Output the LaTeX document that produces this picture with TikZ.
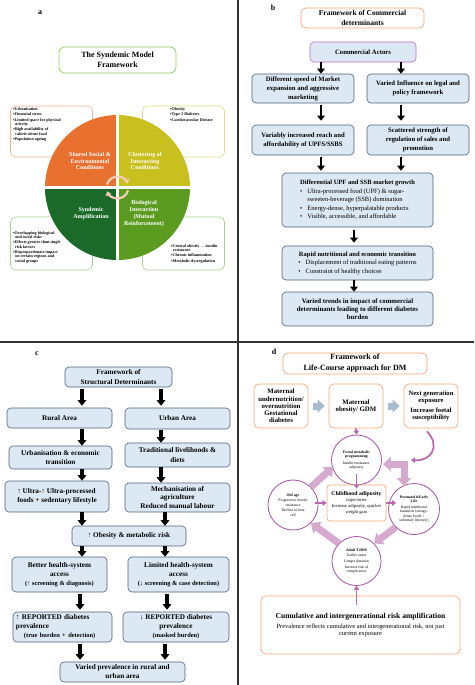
\documentclass[tikz,border=0pt]{standalone}
\usepackage{fontspec}
\setmainfont{Liberation Serif}
\usetikzlibrary{arrows.meta,calc}
\newcommand{\myfs}[2]{\fontsize{#1}{#2}\selectfont}
\definecolor{qorange}{HTML}{E8712F}
\definecolor{qyellow}{HTML}{C9C020}
\definecolor{qdgreen}{HTML}{1B6A2A}
\definecolor{qgreen}{HTML}{5B9B20}
\definecolor{borange}{HTML}{F4B08A}
\definecolor{byellow}{HTML}{E2DC7A}
\definecolor{bgreen}{HTML}{A9D08E}
\definecolor{tgreen}{HTML}{8FCB5A}
\definecolor{boxblue}{HTML}{DCE8F4}
\definecolor{bordblue}{HTML}{4F6179}
\definecolor{actpink}{HTML}{C46AC4}
\definecolor{tor}{HTML}{F5A778}
\definecolor{magarr}{HTML}{B96AB3}
\definecolor{circb}{HTML}{A552A6}
\definecolor{pinkblk}{HTML}{D6AACF}
\definecolor{grayblk}{HTML}{A8BCCE}
\definecolor{cycpink}{HTML}{F6CDB9}
\begin{document}
\begin{tikzpicture}[x=1pt,y=-1pt,
  lbl/.style={font=\myfs{8}{9}\bfseries, inner sep=0pt},
  abox/.style={rounded corners=5pt, line width=0.6pt, fill=white},
  atext/.style={anchor=north west, align=left, inner sep=0pt, font=\myfs{4.1}{4.4}\bfseries},
  qtext/.style={white, align=center, inner sep=0pt, font=\myfs{6}{6.9}\bfseries},
  bbox/.style={draw=bordblue, fill=boxblue, rounded corners=4pt, line width=0.6pt, align=center, inner sep=1pt, font=\myfs{6.7}{9}\bfseries},
  cbox/.style={bbox, font=\myfs{7.2}{9.2}\bfseries},
  tbox/.style={draw=tor, rounded corners=5pt, line width=0.7pt, align=center, inner sep=1pt, fill=white},
  blk/.style={line width=2.6pt, -{Triangle[width=7.5pt,length=5pt]}},
  blkc/.style={line width=3.2pt, -{Triangle[width=8.5pt,length=5.5pt]}},
  marr/.style={magarr, line width=1.8pt, -{Triangle[width=5.5pt,length=4pt]}},
  parr/.style={pinkblk, line width=7pt, -{Triangle[width=14pt,length=8pt]}},
  garr/.style={grayblk, line width=7pt, -{Triangle[width=13pt,length=7pt]}},
  lc/.style={draw=circb, circle, line width=0.8pt, fill=white, minimum size=#1, inner sep=0pt, align=center, font=\myfs{3.8}{4.4}},
]
\useasboundingbox (0,0) rectangle (474,685);
\fill[white] (0,0) rectangle (474,685);
\draw[line width=1.4pt, black!80] (238,0) -- (238,685);
\draw[line width=1.4pt, black!80] (0,342) -- (474,342);

% ---------------- panel a
\node[lbl] (la) at (40,13) {a};
\node[draw=tgreen, rounded corners=6pt, line width=0.7pt, minimum width=117pt, minimum height=26pt, align=center, font=\myfs{8}{9.5}\bfseries] (atitle) at (117.5,60) {The Syndemic Model\\Framework};
\node[abox, draw=borange, minimum width=82pt, minimum height=51pt] (sb1) at (51.5,131.5) {};
\node[abox, draw=byellow, minimum width=82pt, minimum height=51pt] (sb2) at (183.5,131.5) {};
\node[abox, draw=bgreen, minimum width=82pt, minimum height=53pt] (sb3) at (51.5,243.5) {};
\node[abox, draw=bgreen, minimum width=82pt, minimum height=53pt] (sb4) at (183.5,243.5) {};
\node[atext] (t1) at (13,107.5) {▪Urbanisation\\[0.9pt]▪Financial stress\\[0.9pt]▪Limited space for physical\\\hspace{2pt}activity\\[0.9pt]▪High availability of\\\hspace{2pt}calorie-dense food\\[0.9pt]▪Population ageing};
\node[atext] (t2) at (170,107.5) {▪Obesity\\[0.9pt]▪Type 2 Diabetes\\[0.9pt]▪Cardiovascular Disease};
\node[atext] (t3) at (13,231) {▪Overlapping biological\\\hspace{2pt}and social risks\\[0.9pt]▪Effects greater than single\\\hspace{2pt}risk factors\\[0.9pt]▪Disproportionate impact\\\hspace{2pt}on certain regions and\\\hspace{2pt}social groups};
\node[atext] (t4) at (171,244) {▪Central obesity → insulin\\\hspace{2pt}resistance\\[0.9pt]▪Chronic inflammation\\[0.9pt]▪Metabolic dysregulation};
\coordinate (cc) at (117.5,187.5);
\begin{scope}
\clip (cc) circle[radius=72.5pt];
\fill[qorange] (44,114) rectangle (117.5,187.5);
\fill[qyellow] (117.5,114) rectangle (191,187.5);
\fill[qdgreen] (44,187.5) rectangle (117.5,261);
\fill[qgreen] (117.5,187.5) rectangle (191,261);
\end{scope}
\draw[white, line width=3.5pt] (43,187.5) -- (192,187.5);
\draw[white, line width=3.5pt] (117.5,113) -- (117.5,262);
\draw[cycpink, line width=2.2pt, -{Triangle[width=6pt,length=4pt]}] (cc) ++(165:11pt) arc[start angle=165, end angle=20, radius=11pt];
\draw[cycpink, line width=2.2pt, -{Triangle[width=6pt,length=4pt]}] (cc) ++(345:11pt) arc[start angle=345, end angle=200, radius=11pt];
\node[qtext] (q1) at (90,161) {Shared Social \&\\Environmental\\Conditions};
\node[qtext] (q2) at (145,161) {Clustering of\\Interacting\\Conditions};
\node[qtext] (q3) at (91,214) {Syndemic\\Amplification};
\node[qtext] (q4) at (144,213.5) {Biological\\Interaction\\(Mutual\\Reinforcement)};

% ---------------- panel b
\node[lbl] (lb) at (273,8) {b};
\node[tbox, minimum width=123pt, minimum height=20pt, font=\myfs{7.5}{9.5}\bfseries] (btitle) at (362.5,18) {Framework of Commercial\\determinants};
\node[bbox, draw=actpink, minimum width=106pt, minimum height=20pt] (ca) at (363,52) {Commercial Actors};
\node[bbox, minimum width=102pt, minimum height=29pt] (l1) at (303,88.5) {Different speed of Market\\expansion and aggressive\\marketing};
\node[bbox, minimum width=102pt, minimum height=29pt] (r1) at (418,88.5) {Varied Influence on legal and\\policy framework};
\node[bbox, minimum width=102pt, minimum height=30pt] (l2) at (303,140) {Variably increased reach and\\affordability of UPFS/SSBS};
\node[bbox, minimum width=102pt, minimum height=30pt] (r2) at (418,140) {Scattered strength of\\regulation of sales and\\promotion};
\node[bbox, minimum width=151pt, minimum height=54pt, font=\myfs{6.5}{8.5}] (mg) at (357.5,200) {\begin{tabular}{@{}l@{\hspace{5pt}}l@{}}
\multicolumn{2}{@{}c@{}}{\bfseries Differential UPF and SSB market growth}\\
\textbullet & Ultra-processed food (UPF) \& sugar-\\
 & sweeten-beverage (SSB) domination\\
\textbullet & Energy-dense, hyperpalatable products\\
\textbullet & Visible, accessible, and affordable
\end{tabular}};
\node[bbox, minimum width=151pt, minimum height=34pt, font=\myfs{6.5}{8.5}] (rt) at (357.5,263) {\begin{tabular}{@{}l@{\hspace{5pt}}l@{}}
\multicolumn{2}{@{}c@{}}{\bfseries Rapid nutritional and economic transition}\\
\textbullet & Displacement of traditional eating patterns\\
\textbullet & Constraint of healthy choices
\end{tabular}};
\node[bbox, minimum width=151pt, minimum height=34pt, font=\myfs{6.8}{8}\bfseries] (vt) at (357.5,309) {Varied trends in impact of commercial\\determinants leading to different diabetes\\burden};
\coordinate (bx1) at (321,0);
\coordinate (bx2) at (401,0);
\coordinate (bx3) at (354,0);
\draw[blk] (ca.south -| bx1) -- (l1.north -| bx1);
\draw[blk] (ca.south -| bx2) -- (r1.north -| bx2);
\draw[blk, shorten <=2pt, shorten >=4pt] (l1.south -| bx1) -- (l2.north -| bx1);
\draw[blk, shorten <=2pt, shorten >=4pt] (r1.south -| bx2) -- (r2.north -| bx2);
\draw[blk, shorten <=2pt, shorten >=2pt] (l2.south -| bx1) -- (mg.north -| bx1);
\draw[blk, shorten <=2pt, shorten >=2pt] (r2.south -| bx2) -- (mg.north -| bx2);
\draw[blk, shorten <=3pt, shorten >=3pt] (mg.south -| bx3) -- (rt.north -| bx3);
\draw[blk, shorten <=0pt, shorten >=0pt] (rt.south -| bx3) -- (vt.north -| bx3);

% ---------------- panel c
\node[lbl] (lc) at (37,354) {c};
\node[cbox, minimum width=107pt, minimum height=20pt, font=\myfs{7.2}{9.8}\bfseries] (ct) at (118.5,377) {Framework of\\Structural Determinants};
\node[cbox, minimum width=105pt, minimum height=20pt] (rural) at (59.5,418) {Rural Area};
\node[cbox, minimum width=105pt, minimum height=21pt] (urban) at (177.5,418.5) {Urban Area};
\node[cbox, minimum width=103pt, minimum height=23pt] (urbn) at (60.5,457.5) {Urbanisation \& economic\\transition};
\node[cbox, minimum width=105pt, minimum height=24pt] (trad) at (177.5,455) {Traditional livelihoods \&\\diets};
\node[cbox, minimum width=104pt, minimum height=31pt, align=left] (ultra) at (57,496.5) {↑ Ultra-↑ Ultra-processed\\foods + sedentary lifestyle};
\node[cbox, minimum width=105pt, minimum height=29pt, font=\myfs{7.2}{8.2}\bfseries] (mech) at (177.5,497.5) {Mechanisation of\\agriculture\\Reduced manual labour};
\node[cbox, minimum width=114pt, minimum height=20pt] (obes) at (129,536) {↑ Obesity \& metabolic risk};
\node[cbox, minimum width=95pt, minimum height=35pt, font=\myfs{7.2}{9}\bfseries] (better) at (59.5,574.5) {Better health-system\\access\\{\myfs{6.4}{9}(↑ screening \& diagnosis)}};
\node[cbox, minimum width=101pt, minimum height=35pt, font=\myfs{7.2}{9}\bfseries] (limit) at (178.5,574.5) {Limited health-system\\access\\{\myfs{6.4}{9}(↓ screening \& case detection)}};
\node[cbox, minimum width=99pt, minimum height=30pt, text width=93pt, align=left, font=\myfs{7.2}{9}\bfseries] (repl) at (62.5,627) {↑ REPORTED diabetes\\prevalence\\\hspace{8pt}{\myfs{6.4}{9}(true burden + detection)}};
\node[cbox, minimum width=106pt, minimum height=30pt, font=\myfs{7.2}{9}\bfseries] (repr) at (176,627) {↓ REPORTED diabetes\\prevalence\\{\myfs{6.4}{9}(masked burden)}};
\node[cbox, minimum width=125pt, minimum height=20pt, font=\myfs{7.2}{9}\bfseries] (final) at (122.5,672) {Varied prevalence in rural and\\urban area};
\coordinate (cA) at (82,0);
\coordinate (cB) at (161,0);
\coordinate (cC) at (165,0);
\coordinate (cD) at (80,0);
\coordinate (cE) at (167,0);
\draw[blkc, shorten <=2pt, shorten >=2pt] (ct.south -| cA) -- (rural.north -| cA);
\draw[blkc, shorten <=2pt, shorten >=2pt] (ct.south -| cB) -- (urban.north -| cB);
\draw[blkc, shorten <=1pt, shorten >=0pt] (rural.south -| cA) -- (urbn.north -| cA);
\draw[blkc, shorten <=1pt, shorten >=0pt] (urban.south -| cB) -- (trad.north -| cB);
\draw[blkc, shorten <=0pt, shorten >=0pt] (urbn.south -| cA) -- (ultra.north -| cA);
\draw[blkc, shorten <=0pt, shorten >=0pt] (trad.south -| cB) -- (mech.north -| cB);
\draw[blkc] (ultra.south -| cA) -- (obes.north -| cA);
\draw[blkc] (mech.south -| cC) -- (obes.north -| cC);
\draw[blkc] (obes.south -| cA) -- (better.north -| cA);
\draw[blkc] (obes.south -| cC) -- (limit.north -| cC);
\draw[blkc, shorten <=2pt, shorten >=2pt] (better.south -| cD) -- (repl.north -| cD);
\draw[blkc, shorten <=2pt, shorten >=2pt] (limit.south -| cE) -- (repr.north -| cE);
\draw[blkc, shorten <=2pt, shorten >=2pt] (repl.south -| cD) -- (final.north -| cD);
\draw[blkc, shorten <=2pt, shorten >=2pt] (repr.south -| cC) -- (final.north -| cC);

% ---------------- panel d
\node[lbl] (ld) at (274,352) {d};
\node[tbox, minimum width=144pt, minimum height=21pt, font=\myfs{8}{11}\bfseries] (dt) at (355,363.5) {Framework of\\Life-Course approach for DM};
\node[tbox, minimum width=54pt, minimum height=44pt, font=\myfs{6.8}{7.2}\bfseries] (m1) at (281,406) {Maternal\\undernutrition/\\overnutrition\\Gestational\\diabetes};
\node[tbox, minimum width=54pt, minimum height=44pt, font=\myfs{6.8}{7.2}\bfseries] (m2) at (356,406) {Maternal\\obesity/ GDM};
\node[tbox, minimum width=54pt, minimum height=44pt, font=\myfs{6.6}{7.2}\bfseries] (m3) at (431,406) {Next generation\\exposure\\[2pt]Increase foetal\\susceptibility};
\node[lc=50pt] (fo) at (356.5,460) {\textbf{Foetal metabolic}\\\textbf{programming}\\[2pt]Insulin resistance,\\adiposity};
\node[draw=tor, rounded corners=3pt, line width=0.7pt, fill=white, minimum width=59pt, minimum height=36pt, align=center, inner sep=1pt, font=\myfs{4.6}{5.2}] (ch) at (356.5,503) {{\myfs{5.8}{6.2}\textbf{Childhood adiposity}}\\trajectories\\[1.5pt]Increase adiposity, quicker\\weight gain};
\node[lc=50pt] (old) at (293,505) {\textbf{Old age}\\[1.2pt]Progressive insulin\\resistance\\[1.2pt]Decline in beta\\cell};
\node[lc=51pt] (pn) at (414,509) {\textbf{Postnatal \&Early}\\\textbf{Life}\\[1pt]Rapid nutritional\\transition (energy-\\dense foods +\\sedentary lifestyle)};
\node[lc=49pt] (ad) at (356.5,561) {\textbf{Adult T2DM}\\[1.2pt]Earlier onset\\[1.2pt]Longer duration\\[1.2pt]Increase risk of\\complication};
\node[tbox, minimum width=199pt, minimum height=58pt, font=\myfs{6.4}{7.4}] (cum) at (360.5,625) {{\myfs{7.6}{9}\bfseries Cumulative and intergenerational risk amplification}\\[2pt]Prevalence reflects cumulative and intergenerational risk, not just\\current exposure};

\draw[garr, shorten <=5pt, shorten >=4pt] (m1) -- (m2);
\draw[garr, shorten <=5pt, shorten >=4pt] (m2) -- (m3);
\draw[parr] (old.north east) -- ($(fo.west)+(2,7)$);
\draw[pinkblk, line width=7pt, {Triangle[width=14pt,length=8pt]}-{Triangle[width=14pt,length=8pt]}] ($(pn.north)+(-10,3)$) |- ($(fo.east)+(1,4)$);
\draw[parr] (ad.north west) -- (old.south east);
\draw[parr] (pn.south west) -- (ad.north east);
\draw[marr] (m2.south) -- (fo.north);
\draw[marr] ($(fo.south)+(0,-11)$) -- ($(ch.north)+(0,4)$);
\draw[marr] ($(old.east |- ch.west)+(-3,0)$) -- (ch.west);
\draw[marr] (ch.east) -- ($(pn.west |- ch.east)+(8,0)$);
\draw[marr] ($(m3.south)+(-4,3)$) .. controls ($(m3.south)+(10,18)$) and ($(m3.south)+(0,33)$) .. ($(fo.east)+(29,0)$);
\draw[marr] ($(cum.north -| ad.south)+(0,9)$) -- (ad.south);
\end{tikzpicture}
\end{document}
